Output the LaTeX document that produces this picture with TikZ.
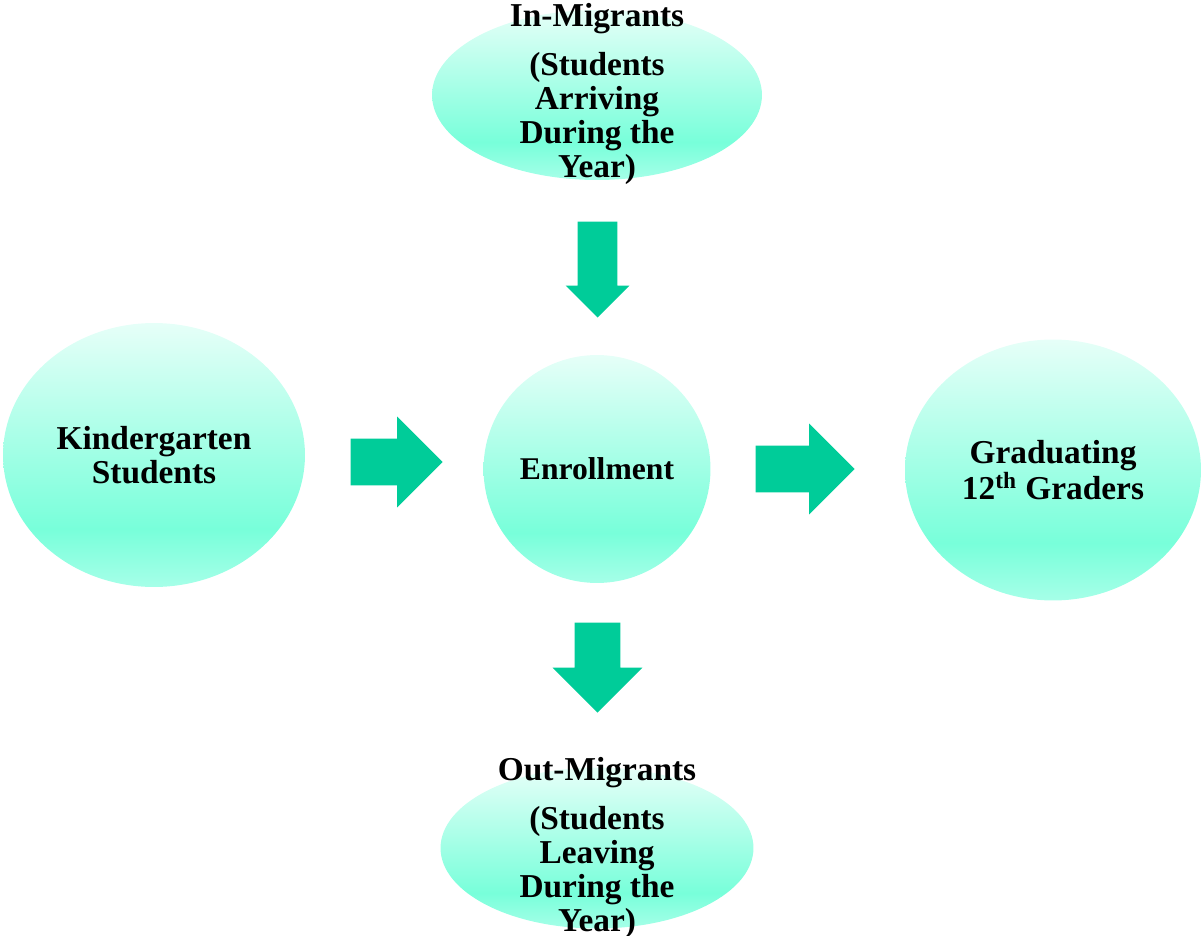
\documentclass[tikz,border=0pt]{standalone}
\usepackage{fontspec}
\setmainfont{Liberation Serif}
\usetikzlibrary{shapes.geometric,shapes.arrows}

\definecolor{minttop}{HTML}{E6FFF8}
\definecolor{mintmid}{HTML}{78FFDA}
\definecolor{mintlow}{HTML}{A6FFE8}
\definecolor{flowgreen}{HTML}{00CC99}

% light mint at the top, deepest near the bottom
\pgfdeclareverticalshading{mintfade}{100bp}{color(0bp)=(mintlow); color(25bp)=(mintlow);
  color(36bp)=(mintmid); color(75bp)=(minttop); color(100bp)=(minttop)}

\tikzset{
  blob/.style={ellipse, inner sep=0pt, shading=mintfade, draw=none},
  txt/.style={align=center, font=\fontsize{19}{19.3}\selectfont\bfseries},
  flow/.style={single arrow, fill=flowgreen, draw=none, inner sep=0pt,
    single arrow tip angle=90, anchor=tip},
  downflow/.style={flow, shape border rotate=270, inner xsep=#1},
  sideflow/.style={flow, inner ysep=#1},
}

\begin{document}
\begin{tikzpicture}[x=0.02cm, y=-0.02cm]
  \useasboundingbox (0,0) rectangle (1203,936);

  \node[blob, minimum width=6.6cm, minimum height=3.4cm,
    label={[txt, name=intext, yshift=0.02cm]center:In-Migrants\\[0.3cm](Students\\Arriving\\During the\\Year)}]
    (inmig) at (597,95) {};
  \node[blob, txt, minimum width=6.04cm, minimum height=5.28cm]
    (kinder) at (154,455) {Kindergarten\\Students};
  \node[blob, txt, minimum width=4.54cm, minimum height=4.56cm]
    (enroll) at (597,469) {\fontsize{18}{18}\selectfont Enrollment};
  \node[blob, txt, minimum width=5.92cm, minimum height=5.22cm]
    (grad) at (1053,470) {Graduating\\12\textsuperscript{th} Graders};
  \node[blob, minimum width=6.26cm, minimum height=3.22cm,
    label={[txt, name=outtext, yshift=0cm]center:Out-Migrants\\[0.3cm](Students\\Leaving\\During the\\Year)}]
    (outmig) at (597,848) {};

  \node[downflow=0.39cm, minimum height=1.92cm,
    single arrow head extend=0.24cm] (inflow) at (597.5,318) {};
  \node[sideflow=0.46cm, minimum height=1.84cm,
    single arrow head extend=0.44cm] (kinflow) at (443,462) {};
  \node[sideflow=0.46cm, minimum height=1.98cm,
    single arrow head extend=0.44cm] (gradflow) at (855,469) {};
  \node[downflow=0.45cm, minimum height=1.8cm,
    single arrow head extend=0.44cm] (outflow) at (597.5,713) {};
\end{tikzpicture}
\end{document}
